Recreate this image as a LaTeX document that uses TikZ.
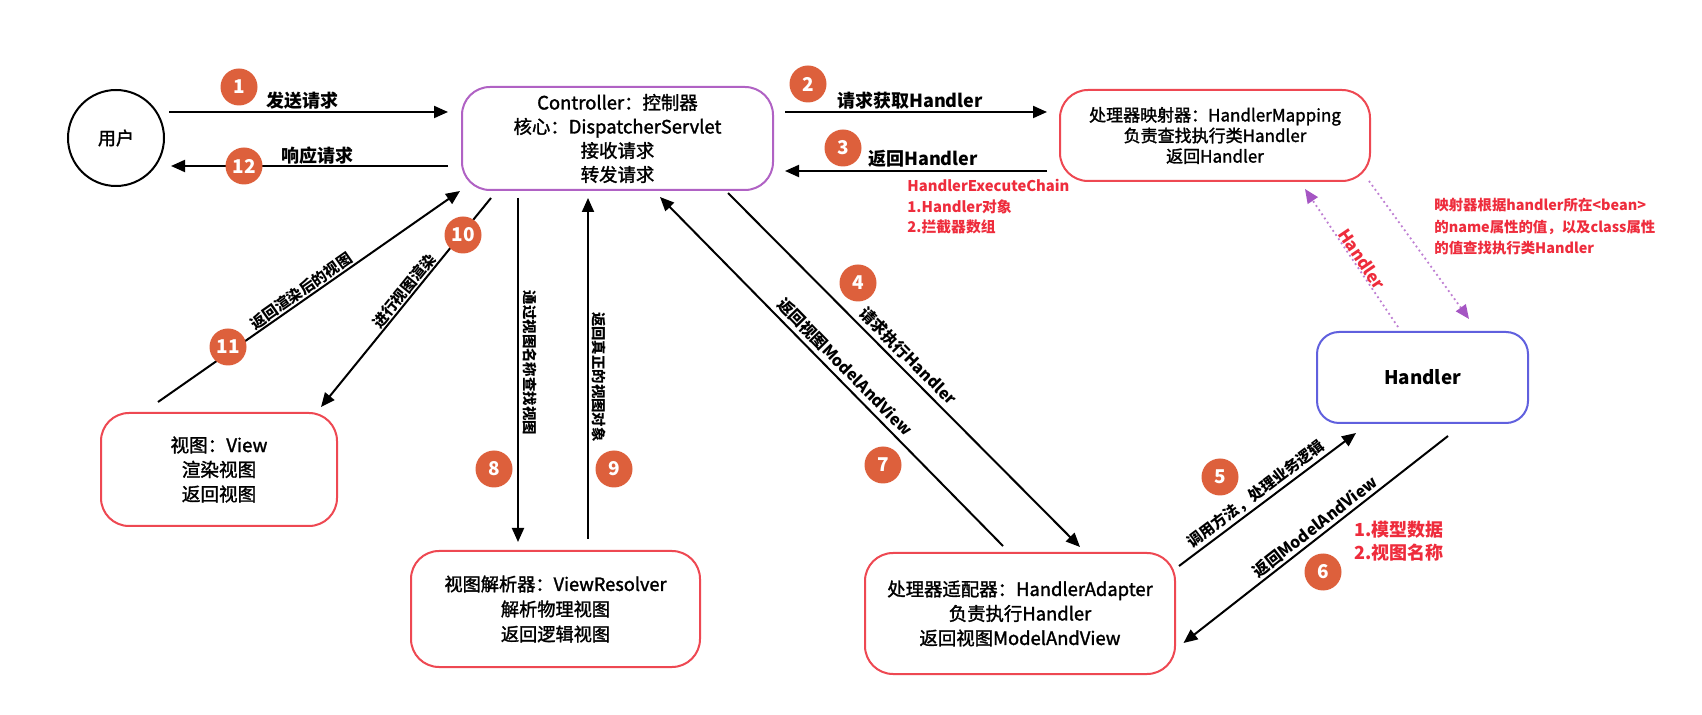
\documentclass[tikz,border=0pt]{standalone}
\usepackage{fontspec}
\setmainfont{Noto Sans CJK SC}
\newfontfamily\boxfont[FakeBold=1.6]{Noto Sans CJK SC}
\usetikzlibrary{arrows.meta}
\definecolor{badgec}{RGB}{221,96,60}
\definecolor{boxred}{RGB}{238,72,82}
\definecolor{boxpurple}{RGB}{176,98,196}
\definecolor{boxblue}{RGB}{96,96,222}
\definecolor{txtred}{RGB}{238,44,60}
\definecolor{dotpurple}{RGB}{190,125,210}
\definecolor{tippurple}{RGB}{165,85,195}
\newcommand\fsz[2]{\fontsize{#1}{#2}\selectfont}
\tikzset{
  box/.style={draw=boxred, line width=1pt, rounded corners=14pt, inner sep=0pt, align=center, text=black},
  arr/.style={draw=black, line width=1pt, -{Triangle[length=7pt,width=6pt]}},
  dotarr/.style={draw=dotpurple, line width=0.9pt, dash pattern=on 0.9pt off 1.6pt, -{Triangle[length=7pt,width=6pt,color=tippurple]}},
  badge/.style={circle, fill=badgec, minimum size=18.5pt, inner sep=0pt, text=white, font=\fsz{9.5}{9.5}\bfseries},
  lbl/.style={font=\fsz{9}{10}\bfseries, inner sep=0pt},
  slbl/.style={font=\fsz{8}{9}\bfseries, inner sep=0pt},
  vlbl/.style={font=\fsz{7.2}{8}\bfseries, inner sep=0pt},
  rtext/.style={text=txtred, align=left, inner sep=0pt, anchor=west}
}
\begin{document}
\begin{tikzpicture}[x=0.5pt,y=-0.5pt]
\fill[white] (0,0) rectangle (1702,715);
\useasboundingbox (0,0) rectangle (1702,715);

% nodes
\node[circle, draw, line width=1pt, minimum size=48pt, inner sep=0pt, font=\boxfont\fsz{9}{10}] (user) at (116,138) {用户};
\node[box, draw=boxpurple, minimum width=155.5pt, minimum height=51.5pt, font=\boxfont\fsz{9.2}{12}] (ctrl) at (617.5,138.5) {Controller：控制器\\核心：DispatcherServlet\\接收请求\\转发请求};
\node[box, minimum width=155pt, minimum height=45.5pt, font=\boxfont\fsz{8.5}{10.3}] (hm) at (1215,135.5) {处理器映射器：HandlerMapping\\负责查找执行类Handler\\返回Handler};
\node[box, draw=boxblue, rounded corners=11pt, minimum width=105.5pt, minimum height=45.5pt, font=\fsz{9.4}{11}\bfseries] (handler) at (1422.5,377.5) {Handler};
\node[box, minimum width=118pt, minimum height=56.5pt, font=\boxfont\fsz{9.3}{12.25}] (view) at (219,469.5) {视图：View\\渲染视图\\返回视图};
\node[box, minimum width=144.5pt, minimum height=58pt, font=\boxfont\fsz{9.1}{12.5}] (vr) at (555.5,609) {视图解析器：ViewResolver\\解析物理视图\\返回逻辑视图};
\node[box, minimum width=155pt, minimum height=60.5pt, font=\boxfont\fsz{9.2}{12.25}] (ha) at (1020,613.5) {处理器适配器：HandlerAdapter\\负责执行Handler\\返回视图ModelAndView};

% connectors
\draw[arr] ([shift={(4,-26)}]user.east) -- ([shift={(-13,-26.5)}]ctrl.west);
\draw[arr] ([shift={(-13,27.5)}]ctrl.west) -- ([shift={(6,28)}]user.east);
\draw[arr] ([shift={(11,-26.5)}]ctrl.east) -- ([shift={(-12,-23.5)}]hm.west);
\draw[arr] ([shift={(-12,35.5)}]hm.west) -- ([shift={(11,32.5)}]ctrl.east);
\draw[arr] ([shift={(-99.5,7)}]ctrl.south) -- ([shift={(-37.5,-8)}]vr.north);
\draw[arr] ([shift={(32.5,-11)}]vr.north) -- ([shift={(-29.5,7)}]ctrl.south);
\draw[arr] ([shift={(30,7)}]ctrl.south west) -- ([shift={(-17,-5)}]view.north east);
\draw[arr] ([shift={(58,-10)}]view.north west) -- ([shift={(-1,0)}]ctrl.south west);
\draw[arr] ([shift={(-46,2)}]ctrl.south east) -- ([shift={(60,-5)}]ha.north);
\draw[arr] ([shift={(-17,-6)}]ha.north) -- ([shift={(42.5,6)}]ctrl.south);
\draw[arr] ([shift={(3,14)}]ha.north east) -- ([shift={(40,9)}]handler.south west);
\draw[arr] ([shift={(25.5,12)}]handler.south) -- ([shift={(7.5,29.5)}]ha.east);
\draw[dotarr] ([shift={(-24.5,-4)}]handler.north) -- ([shift={(90,7)}]hm.south);
\draw[dotarr] ([shift={(-2,-1)}]hm.south east) -- ([shift={(46.5,-12)}]handler.north);

% labels
\node[lbl] (l1) at (302,101) {发送请求};
\node[lbl] (l12) at (317,156) {响应请求};
\node[lbl] (l2) at (910,101) {请求获取Handler};
\node[lbl] (l3) at (923,159) {返回Handler};
\node[slbl, font=\fsz{7.5}{8}\bfseries, rotate=51] (l10) at (404,291) {进行视图渲染};
\node[slbl, font=\fsz{7.5}{8}\bfseries, rotate=35] (l11) at (301,291) {返回渲染后的视图};
\node[vlbl, rotate=-90] (l8) at (530,363) {通过视图名称查找视图};
\node[vlbl, rotate=-90] (l9) at (599,377) {返回真正的视图对象};
\node[slbl, rotate=-45.2] (l4) at (908,356) {请求执行Handler};
\node[slbl, rotate=-45.7] (l7) at (845,367) {返回视图ModelAndView};
\node[slbl, font=\fsz{7.6}{8}\bfseries, rotate=37] (l5) at (1256,494) {调用方法，处理业务逻辑};
\node[slbl, rotate=38] (l6) at (1315,527) {返回ModelAndView};
\node[slbl, text=txtred, font=\fsz{8.4}{9}\bfseries, rotate=-56] (lh) at (1362,259) {Handler};

\node[rtext, font=\fsz{7.4}{10.25}\bfseries] (chain) at (907,207) {HandlerExecuteChain\\1.Handler对象\\2.拦截器数组};
\node[rtext, font=\fsz{7.2}{10.75}\bfseries] (rule) at (1434,227) {映射器根据handler所在<bean>\\的name属性的值，以及class属性\\的值查找执行类Handler};
\node[rtext, font=\fsz{9}{11.5}\bfseries] (mv) at (1354,541.5) {1.模型数据\\2.视图名称};

% badges
\node[badge] (b1) at (239,87) {1};
\node[badge] (b12) at (244,166) {12};
\node[badge] (b2) at (808,84) {2};
\node[badge] (b3) at (843,148) {3};
\node[badge] (b10) at (463,235) {10};
\node[badge] (b11) at (228,347) {11};
\node[badge] (b8) at (494,469) {8};
\node[badge] (b9) at (614,469) {9};
\node[badge] (b4) at (858,283) {4};
\node[badge] (b7) at (883,465) {7};
\node[badge] (b5) at (1220,477) {5};
\node[badge] (b6) at (1323,572) {6};
\end{tikzpicture}
\end{document}
